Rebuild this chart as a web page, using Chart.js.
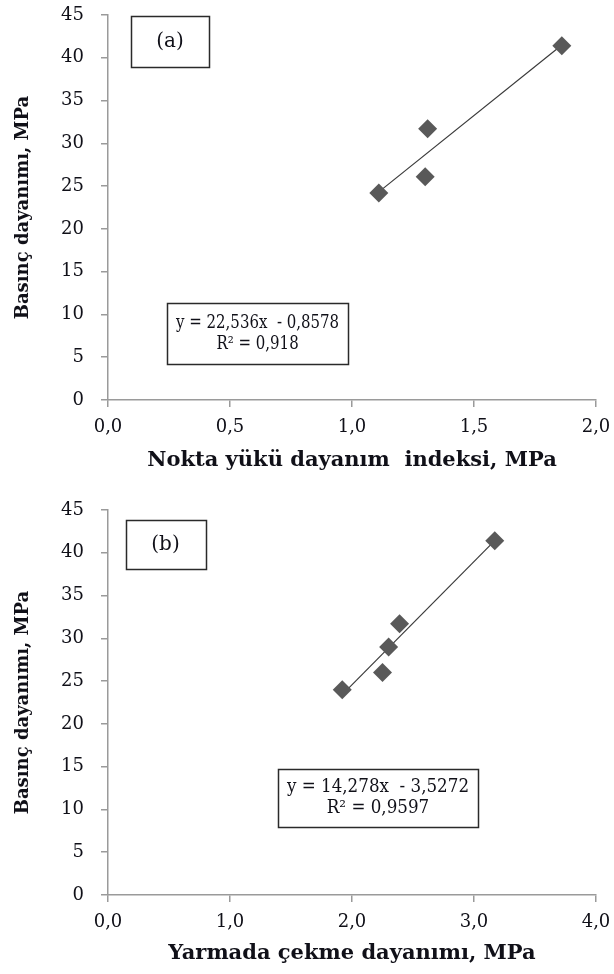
<!DOCTYPE html>
<html>
<head>
<meta charset="utf-8">
<script src="https://cdn.jsdelivr.net/npm/chart.js@4"></script>
<style>
  html, body { margin: 0; padding: 0; background: #fff; overflow: hidden; }
  .panel { position: absolute; left: 0; width: 614px; }
  #wrapA { top: 0; height: 487px; }
  #wrapB { top: 495px; height: 479px; }
</style>
</head>
<body>
<div class="panel" id="wrapA"><canvas id="chartA"></canvas></div>
<div class="panel" id="wrapB"><canvas id="chartB"></canvas></div>
<script>
/* ---------- Daten ---------- */
// (a) Nokta yükü dayanım indeksi vs. Basınç dayanımı
const pointLoadX = [1.11, 1.30, 1.31, 1.86];
const pointLoadY = [24.2, 26.1, 31.7, 41.4];
// (b) Yarmada çekme dayanımı vs. Basınç dayanımı
const splitX = [1.92, 2.25, 2.30, 2.39, 3.17];
const splitY = [24.0, 26.0, 29.0, 31.7, 41.4];

const yTicks = [0, 5, 10, 15, 20, 25, 30, 35, 40, 45];
const xTicksA = [0.0, 0.5, 1.0, 1.5, 2.0];
const xTicksB = [0.0, 1.0, 2.0, 3.0, 4.0];

const eqTextA = ['y = 22,536x  - 0,8578', 'R\u00b2 = 0,918'];
const eqTextB = ['y = 14,278x  - 3,5272', 'R\u00b2 = 0,9597'];

const yTitle = 'Basınç dayanımı, MPa';
const xTitleA = 'Nokta yükü dayanım  indeksi, MPa';
const xTitleB = 'Yarmada çekme dayanımı, MPa';

(function () {
  const FONT = '"DejaVu Serif", "Liberation Serif", serif';
  const TXT = '#101018';
  const AXIS = '#9a9a9a';
  const MARK = '#595959';

  // einfache lineare Regression für die Trendlinie
  function linReg(xs, ys) {
    const n = xs.length;
    const mx = xs.reduce((a, b) => a + b, 0) / n;
    const my = ys.reduce((a, b) => a + b, 0) / n;
    let sxy = 0, sxx = 0;
    for (let i = 0; i < n; i++) {
      sxy += (xs[i] - mx) * (ys[i] - my);
      sxx += (xs[i] - mx) * (xs[i] - mx);
    }
    const m = sxy / sxx;
    return { m, b: my - m * mx };
  }

  // Kästen ((a)/(b) und Gleichung) in Datenkoordinaten
  const boxPlugin = {
    id: 'textBoxes',
    afterDatasetsDraw(chart) {
      const { ctx, scales } = chart;
      (chart.options.plugins.textBoxes.boxes || []).forEach(b => {
        const x1 = scales.x.getPixelForValue(b.x0), x2 = scales.x.getPixelForValue(b.x1);
        const y1 = scales.y.getPixelForValue(b.y0), y2 = scales.y.getPixelForValue(b.y1);
        ctx.save();
        ctx.lineWidth = 1.5;
        ctx.strokeStyle = '#2a2a2a';
        ctx.strokeRect(Math.round(x1) + 0.5, Math.round(y1) + 0.5, Math.round(x2 - x1), Math.round(y2 - y1));
        ctx.fillStyle = TXT;
        ctx.textAlign = 'center';
        ctx.textBaseline = 'middle';
        ctx.font = (b.size || 18) + 'px ' + FONT;
        // DejaVu ist breiter als die Originalschrift -> horizontal etwas stauchen
        const maxW = Math.abs(x2 - x1) - 18;
        const widest = Math.max(...b.lines.map(t => ctx.measureText(t).width));
        const sx = Math.min(1, maxW / widest);
        const cx = (x1 + x2) / 2, cy = (y1 + y2) / 2;
        const lh = 21;
        ctx.translate(cx, cy);
        ctx.scale(sx, 1);
        b.lines.forEach((t, i) => {
          ctx.fillText(t, 0, (i - (b.lines.length - 1) / 2) * lh);
        });
        ctx.restore();
      });
    },
  };

  function fmtX(v) { return Number(v).toFixed(1).replace('.', ','); }

  function makeChart(id, xs, ys, xMax, xTickVals, xTitle, titlePadBottom, boxes) {
    const fit = linReg(xs, ys);
    const x0 = Math.min(...xs), x1 = Math.max(...xs);
    const canvasH = document.getElementById(id).parentNode.clientHeight;
    return new Chart(document.getElementById(id), {
      type: 'scatter',
      data: {
        datasets: [
          {
            data: xs.map((x, i) => ({ x, y: ys[i] })),
            pointStyle: 'rectRot',
            pointRadius: 9.5,
            backgroundColor: MARK,
            borderColor: MARK,
            borderWidth: 0,
          },
          {
            type: 'line',
            data: [{ x: x0, y: fit.m * x0 + fit.b }, { x: x1, y: fit.m * x1 + fit.b }],
            borderColor: '#3a3a3a',
            borderWidth: 1.2,
            pointRadius: 0,
            fill: false,
          },
        ],
      },
      options: {
        responsive: true,
        maintainAspectRatio: false,
        animation: false,
        layout: { padding: { top: 15, right: 18, left: 0, bottom: 0 } },
        plugins: {
          legend: { display: false },
          tooltip: { enabled: false },
          textBoxes: { boxes },
        },
        scales: {
          x: {
            type: 'linear',
            min: 0, max: xMax,
            afterBuildTicks: s => { s.ticks = xTickVals.map(v => ({ value: v })); },
            afterFit: s => { s.height = canvasH - 400; s.paddingLeft = 0; s.paddingRight = 0; },
            grid: { drawOnChartArea: false, tickLength: 7, color: AXIS, lineWidth: 1.5 },
            border: { color: AXIS, width: 1.5 },
            ticks: { color: TXT, font: { family: FONT, size: 18 }, padding: 10, callback: fmtX, maxRotation: 0 },
            title: {
              display: true, text: xTitle, color: TXT,
              font: { family: FONT, size: 21, weight: 'bold' },
              padding: { top: 0, bottom: titlePadBottom },
            },
          },
          y: {
            min: 0, max: 45,
            afterBuildTicks: s => { s.ticks = yTicks.map(v => ({ value: v })); },
            afterFit: s => { s.width = 108; s.paddingTop = 0; s.paddingBottom = 0; },
            grid: { drawOnChartArea: false, tickLength: 7, color: AXIS, lineWidth: 1.5 },
            border: { color: AXIS, width: 1.5 },
            ticks: { color: TXT, font: { family: FONT, size: 18 }, padding: 17 },
            title: {
              display: true, text: yTitle, color: TXT,
              font: { family: FONT, size: 18, weight: 'bold' },
              padding: { top: 13, bottom: 0 },
            },
          },
        },
      },
      plugins: [boxPlugin],
    });
  }

  makeChart('chartA', pointLoadX, pointLoadY, 2, xTicksA, xTitleA, 14, [
    { x0: 0.094, x1: 0.414, y0: 44.9, y1: 38.9, lines: ['(a)'], size: 20 },
    { x0: 0.242, x1: 0.984, y0: 11.3, y1: 4.2, lines: eqTextA },
  ]);
  makeChart('chartB', splitX, splitY, 4, xTicksB, xTitleB, 8, [
    { x0: 0.145, x1: 0.798, y0: 43.8, y1: 38.1, lines: ['(b)'], size: 20 },
    { x0: 1.393, x1: 3.033, y0: 14.7, y1: 7.9, lines: eqTextB },
  ]);
})();
</script>
</body>
</html>
